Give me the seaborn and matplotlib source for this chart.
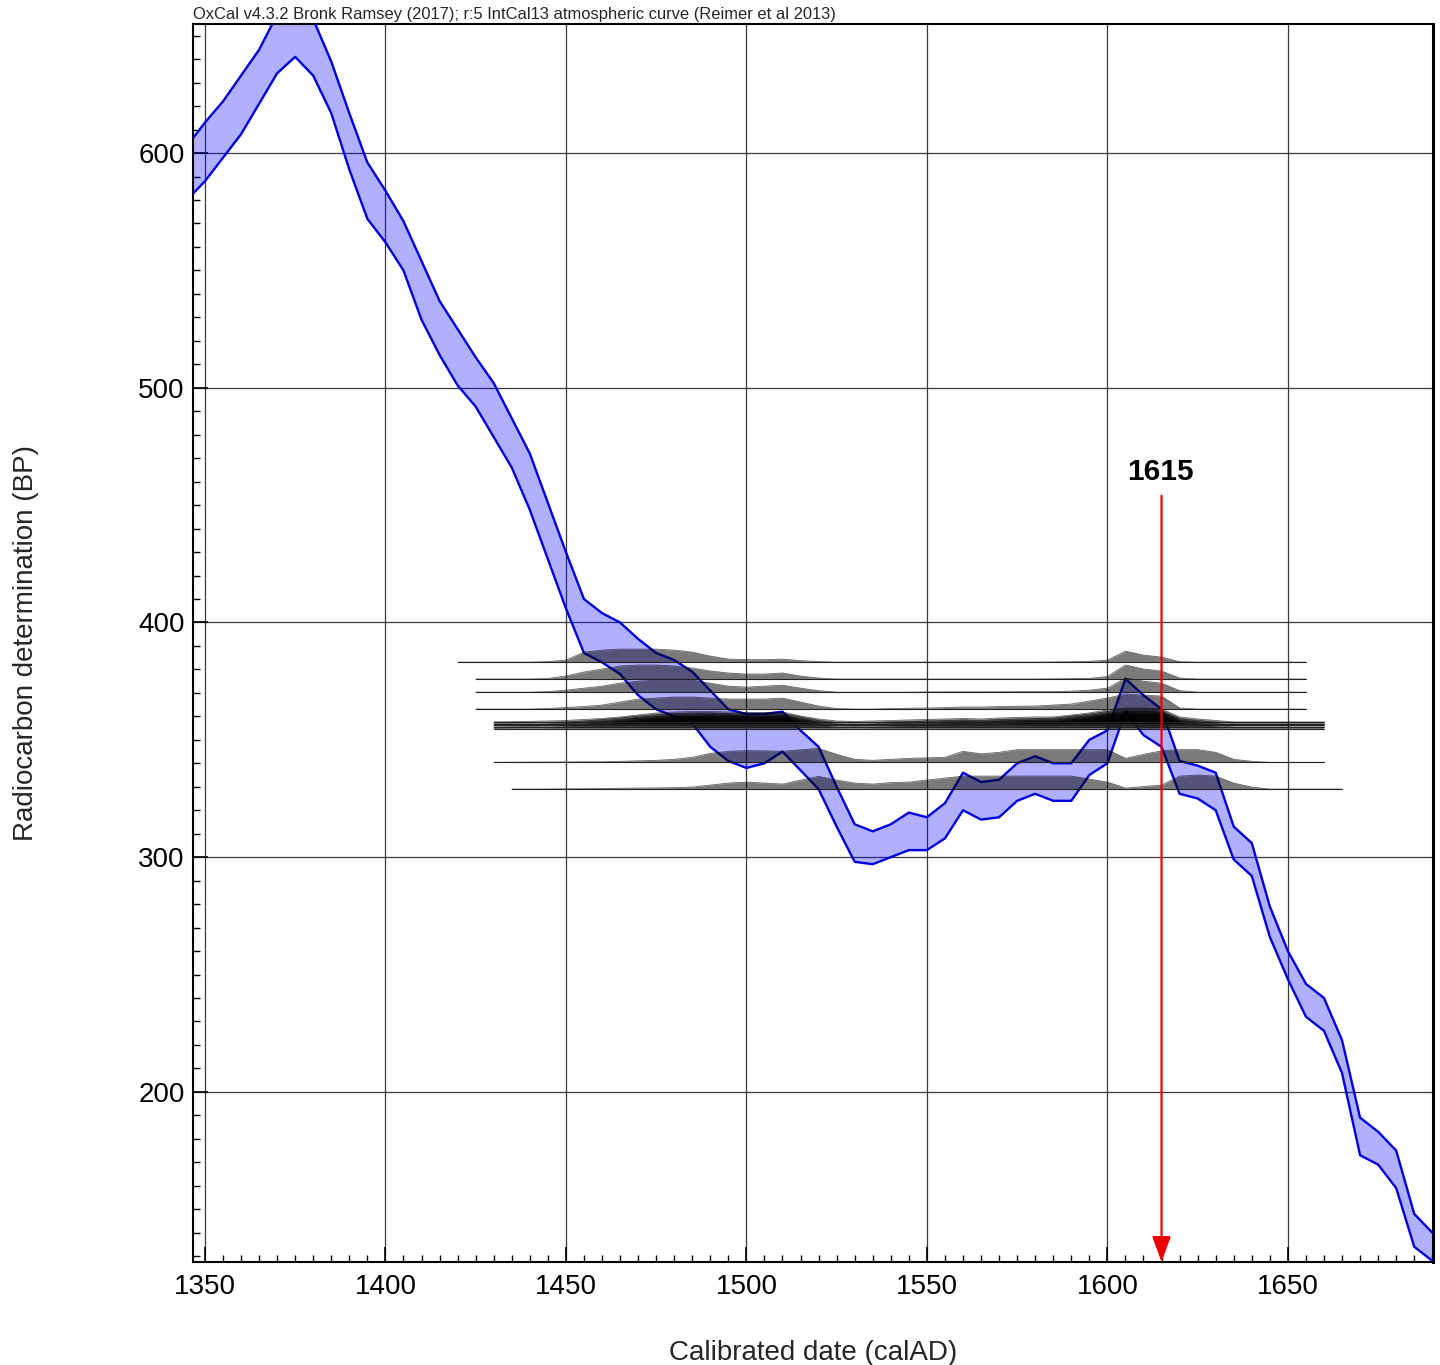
import numpy as np
import pandas as pd
import matplotlib
matplotlib.use("Agg")
import matplotlib.pyplot as plt
import seaborn as sns

# ---------------- data ----------------
# IntCal13 curve (1-sigma envelope), 5-year steps
CURVE_YEARS = list(range(1345, 1691, 5))
CURVE_UPPER = [603, 613, 622, 633, 644, 659, 664, 657, 639, 617,
               596, 584, 571, 554, 537, 525, 513, 502, 487, 472,
               451, 430, 410, 404, 400, 393, 387, 384, 379, 371,
               363, 361, 361, 362, 354, 347, 330, 314, 311, 314,
               319, 317, 323, 336, 332, 333, 340, 343, 340, 340,
               350, 354, 376, 369, 363, 341, 339, 336, 313, 306,
               279, 260, 246, 240, 222, 189, 183, 175, 148, 140]
CURVE_LOWER = [580, 588, 598, 608, 621, 634, 641, 633, 617, 593,
               572, 562, 550, 529, 514, 501, 492, 479, 466, 448,
               427, 406, 387, 383, 378, 369, 363, 360, 357, 347,
               341, 338, 340, 345, 337, 329, 313, 298, 297, 300,
               303, 303, 308, 320, 316, 317, 324, 327, 324, 324,
               335, 340, 362, 352, 347, 327, 325, 320, 299, 292,
               266, 248, 232, 226, 208, 173, 169, 159, 134, 128]

# calibrated probability distributions (relative heights) on a 5-year grid
DENS_YEARS = list(range(1440, 1646, 5))
SAMPLE_BP = [383.1, 375.9, 370.3, 363.1, 357.6, 356.9, 356.2, 355.5, 354.8, 340.4, 329.0]
SAMPLE_START = [1420, 1425, 1425, 1425, 1430, 1430, 1430, 1430, 1430, 1430, 1435]
SAMPLE_END = [1655, 1655, 1655, 1655, 1660, 1660, 1660, 1660, 1660, 1660, 1665]

D1 = [0, 0.5, 2, 10, 12, 13, 13, 13, 12, 10,
      6, 3, 2.5, 2.5, 3, 1.5, 0.5, 0, 0, 0,
      0, 0, 0, 0, 0, 0, 0, 0, 0, 0.2,
      0.4, 0.8, 2, 11, 7, 5, 0.5, 0, 0, 0, 0, 0]
D2 = [0, 0.5, 3, 7, 10, 13, 14, 14, 13, 11,
      8, 6, 5, 5, 6, 3, 1, 0, 0, 0,
      0, 0, 0, 0, 0, 0, 0, 0, 0, 0.2,
      0.4, 0.6, 2.5, 14, 10, 8, 1, 0, 0, 0, 0, 0]
D3 = [0, 0.5, 2, 4, 6, 9, 11, 12, 12, 12,
      9, 6, 5, 6, 7, 4, 1.5, 0, 0, 0,
      0, 0, 0.2, 0.3, 0.3, 0.3, 0.4, 0.5, 0.5, 0.5,
      1, 2, 4, 14, 11, 9, 1.5, 0, 0, 0, 0, 0]
D4 = [0, 0.5, 1.5, 2.5, 4, 7, 10, 11, 12, 12,
      11, 10, 10, 10, 11, 7, 3, 0.5, 0, 0,
      0.5, 0.8, 1, 1.5, 2, 2, 2.5, 2.8, 3, 4,
      5, 8, 11, 15, 14, 13, 1, 0, 0, 0, 0, 0]
D5 = [0.6, 1, 1.5, 2.5, 3.5, 5, 7, 9, 10, 10.5,
      10.5, 10, 9.5, 9.5, 10, 6, 3, 1, 0.5, 1,
      1.5, 2, 2.5, 3, 3.5, 3, 4, 4.5, 5, 5,
      7, 9, 12, 14, 14, 13, 5, 3, 1.5, 0, 0, 0]
D6 = [0.5, 1, 1.5, 2.5, 4, 5.5, 7.5, 9, 10, 10.5,
      10.5, 10, 9.5, 9.5, 10, 6.5, 3, 1, 0.5, 1,
      1.5, 2, 2.5, 3, 3.5, 3, 4, 4.5, 5, 5.5,
      7.5, 9.5, 12, 14, 14, 12.5, 5, 3, 1.5, 0, 0, 0]
D7 = [0.6, 1, 1.5, 2.5, 3.5, 5, 7, 8.5, 10, 10,
      10.5, 10, 9.5, 9, 10, 6, 3, 1, 0.5, 1,
      1.5, 2, 2.5, 3, 3.5, 3, 4, 4.5, 5, 5,
      7, 9, 11.5, 14, 14, 13, 5, 3, 1.5, 0, 0, 0]
D8 = [0.5, 1, 1.5, 2.5, 3.5, 5, 7, 9, 9.5, 10.5,
      10, 10, 9.5, 9.5, 9.5, 6, 3, 1, 0.5, 1,
      1.5, 2, 2.5, 3, 3.5, 3, 4, 4.5, 5, 5,
      7, 9, 12, 13.5, 14, 13, 5, 3, 1.5, 0, 0, 0]
D9 = [0.6, 1, 1.5, 2.5, 3.5, 5, 7, 9, 10, 10.5,
      10.5, 10, 9.5, 9.5, 10, 6, 3, 1, 0.5, 1,
      1.5, 2, 2.5, 3, 3.5, 3, 4, 4.5, 5, 5,
      7, 9, 12, 14, 14, 13, 5, 3, 1.5, 0, 0, 0]
D10 = [0.2, 0.3, 0.3, 0.5, 0.5, 1, 1.5, 2, 3, 5,
       9, 11, 11.7, 11.5, 11, 12.5, 14, 8, 3, 2,
       3, 4, 4.5, 5, 11, 8.5, 10, 12.7, 12.7, 12.7,
       12.7, 12.7, 12.7, 4, 8, 11.5, 12.7, 12.7, 10, 3, 1, 0]
D11 = [0, 0.1, 0.3, 0.4, 0.6, 0.8, 1, 1.2, 1.5, 2,
       4, 6, 7, 6, 5, 9, 12.7, 9, 6, 5,
       6.5, 7, 9, 11, 13, 13, 13, 13, 13, 13,
       13, 10, 7, 1, 2.5, 4, 13, 14, 13, 6, 2, 0]
DENSITIES = [D1, D2, D3, D4, D5, D6, D7, D8, D9, D10, D11]

ARROW_YEAR = 1615
ARROW_LABEL = "1615"
ARROW_TOP_BP = 454
LABEL_BP = 464

X_MAJOR = [1350, 1400, 1450, 1500, 1550, 1600, 1650]
Y_MAJOR = [200, 300, 400, 500, 600]

TITLE = "OxCal v4.3.2 Bronk Ramsey (2017); r:5 IntCal13 atmospheric curve (Reimer et al 2013)"
XLABEL = "Calibrated date (calAD)"
YLABEL = "Radiocarbon determination (BP)"

# ---------------- style ----------------
sns.set_theme(style="white")
plt.rcParams["font.family"] = ["Liberation Sans", "DejaVu Sans"]

W, H = 1440, 1365
fig = plt.figure(figsize=(W / 100, H / 100), dpi=100)
L, R, T, B = 193, 1433, 24, 1262
ax = fig.add_axes([L / W, 1 - B / H, (R - L) / W, (B - T) / H])

XMIN, XMAX = 1346.7, 1690.2
YMIN, YMAX = 127.5, 655.0
PX_TO_BP = (YMAX - YMIN) / (B - T)

# grid
ax.set_axisbelow(True)
ax.grid(True, which="major", color="#3a3a3a", lw=0.9)

# calibration curve band
curve = pd.DataFrame({"year": CURVE_YEARS, "upper": CURVE_UPPER, "lower": CURVE_LOWER})
ax.fill_between(curve["year"], curve["lower"], curve["upper"],
                facecolor="#0000ff", alpha=0.31, lw=0, zorder=2)
sns.lineplot(data=curve, x="year", y="upper", ax=ax, color="#0000dc", lw=1.7,
             zorder=3, estimator=None, sort=False)
sns.lineplot(data=curve, x="year", y="lower", ax=ax, color="#0000dc", lw=1.7,
             zorder=3, estimator=None, sort=False)

# probability distributions
for bp, st, en, dens in zip(SAMPLE_BP, SAMPLE_START, SAMPLE_END, DENSITIES):
    xs = [st] + [y for y in DENS_YEARS if st < y < en] + [en]
    hs = [0] + [d for y, d in zip(DENS_YEARS, dens) if st < y < en] + [0]
    xs = np.array(xs, float)
    top = bp + np.array(hs, float) * PX_TO_BP
    ax.fill_between(xs, bp, top, facecolor="black", alpha=0.52, lw=0, zorder=4)
    ax.plot(xs, top, color="black", lw=0.6, alpha=0.6, zorder=4.5)
    ax.plot([st, en], [bp, bp], color="#222222", lw=0.8, zorder=4.6)

# arrow and label
ax.annotate("", xy=(ARROW_YEAR, YMIN), xytext=(ARROW_YEAR, ARROW_TOP_BP),
            arrowprops=dict(arrowstyle="-|>,head_length=0.6,head_width=0.22",
                            color="#ee0000", lw=1.6,
                            mutation_scale=26, shrinkA=0, shrinkB=0),
            zorder=6)
ax.text(ARROW_YEAR - 0.4, LABEL_BP, ARROW_LABEL, ha="center", va="center",
        fontsize=21.5, fontweight="bold", color="black", zorder=6)

# axes
ax.set_xlim(XMIN, XMAX)
ax.set_ylim(YMIN, YMAX)
ax.set_xticks(X_MAJOR)
ax.set_yticks(Y_MAJOR)
ax.set_xticks(np.arange(1350, 1691, 5), minor=True)
ax.set_yticks(np.arange(130, 651, 10), minor=True)
ax.tick_params(axis="both", which="major", direction="in", length=11, width=1.2,
               labelsize=20, colors="black")
ax.tick_params(axis="both", which="minor", direction="in", length=5, width=1.0,
               colors="black")
ax.tick_params(axis="x", which="both", bottom=True, top=False, pad=9)
ax.tick_params(axis="y", which="both", left=True, right=False, pad=6)
for s in ax.spines.values():
    s.set_visible(True)
    s.set_color("black")
    s.set_linewidth(1.5)
ax.spines["right"].set_linewidth(2.2)

ax.set_xlabel(XLABEL, fontsize=20)
ax.set_ylabel(YLABEL, fontsize=20)
ax.xaxis.set_label_coords(0.5, -0.063)
ax.yaxis.set_label_coords(-0.124, 0.5)

fig.text(L / W, 1 - 14 / H, TITLE, ha="left", va="center", fontsize=11.9,
         family=["Liberation Sans Narrow", "Liberation Sans", "DejaVu Sans"])

fig.savefig("out.png", dpi=100)
